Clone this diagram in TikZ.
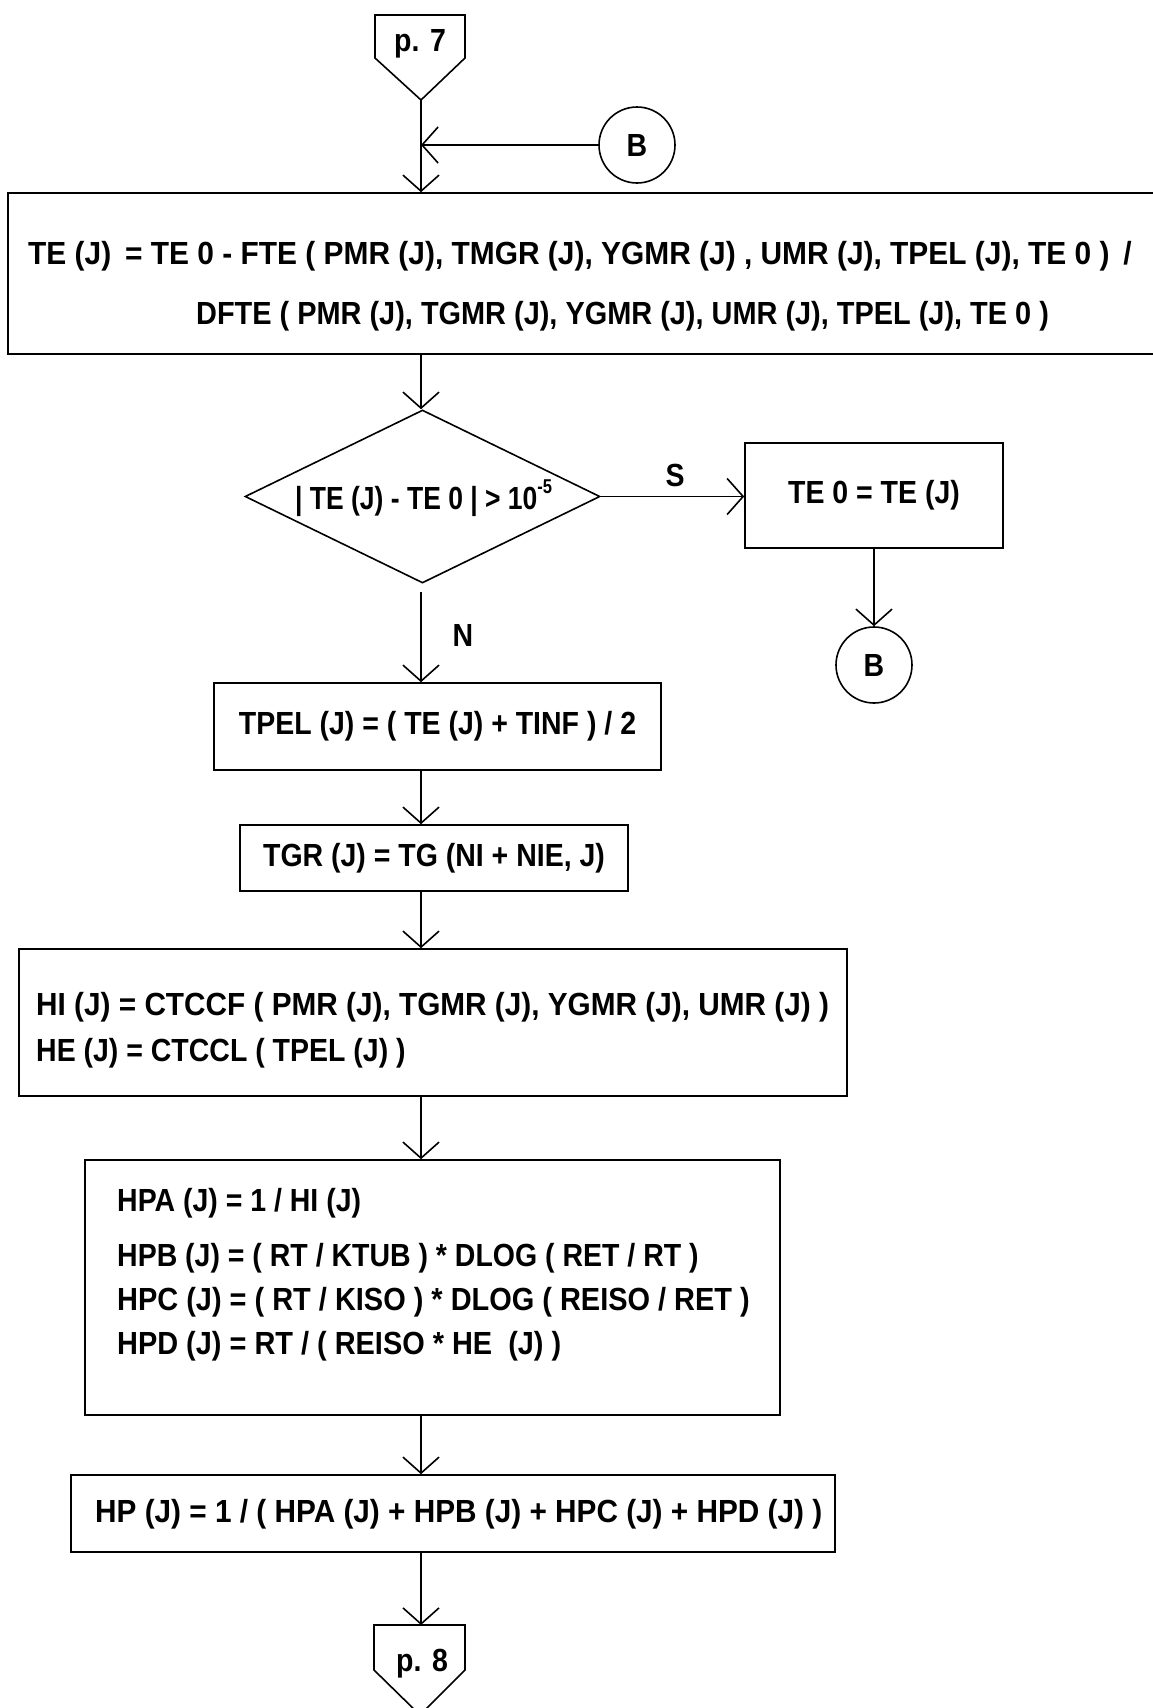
\documentclass[tikz,border=0pt]{standalone}
\usepackage{fontspec}
\setmainfont{Liberation Sans}[FakeStretch=0.89]
\usetikzlibrary{arrows.meta,shapes.geometric}
\newcommand\mysup[1]{\raisebox{0.5em}{\fontsize{20}{20}\selectfont #1}}
\newcommand\sxw[2]{\scalebox{#1}[1]{#2}}
\tikzset{
  ln/.style={line width=1.6pt},
  box/.style={draw, ln, rectangle, inner sep=0pt},
  txt/.style={font=\fontsize{32}{38}\selectfont\bfseries, inner sep=0pt},
  arr/.style={ln, -{Straight Barb[length=16pt,width=36pt,line width=1.6pt]}},
  conn/.style={draw, ln, circle, minimum size=76pt, inner sep=0pt, font=\fontsize{32}{38}\selectfont\bfseries},
}
\begin{document}
\begin{tikzpicture}[x=1pt,y=-1pt]
\useasboundingbox (0,0) rectangle (1152,1708);
\fill[white] (0,0) rectangle (1152,1708);
\coordinate (fx) at (421,0);
% off-page p.7
\draw[ln] (375,15) -- (465,15) -- (465,58) -- (421,100) -- (375,58) -- cycle;
\node[txt] (p7) at (420,44) {p. 7};
\coordinate (p7tip) at (421,100);
% connector B
\node[conn] (B1) at (637,145) {B};
% main box
\node[box, minimum width=1162pt, minimum height=161pt] (main) at (589,273.5) {};
\node[txt, anchor=west] (m1) at (28,256) {\sxw{1.05}{TE (J) \,= TE 0 - FTE ( PMR (J), TMGR (J), YGMR (J) , UMR (J), TPEL (J), TE 0 ) \,/}};
\node[txt, anchor=west] (m2) at (196,316) {\sxw{1.015}{DFTE ( PMR (J), TGMR (J), YGMR (J), UMR (J), TPEL (J), TE 0 )}};
% decision
\node[draw, ln, diamond, minimum width=355pt, minimum height=173pt, inner sep=0pt] (dia) at (422.5,496.5) {};
\node[txt, anchor=west] (dt) at (295,498) {\sxw{0.93}{| TE (J) - TE 0 | > 10\mysup{-5}}};
\node[box, minimum width=258pt, minimum height=105pt, txt] (te0) at (874,495.5) {TE 0 = TE (J)};
\node[conn] (B2) at (874,665) {B};
\node[txt] (S) at (675,475) {S};
\node[txt] (N) at (463,635) {N};
% process boxes
\node[box, txt, minimum width=447pt, minimum height=87pt] (tpel) at (437.5,726.5) {TPEL (J) = ( TE (J) + TINF ) / 2};
\node[box, txt, minimum width=388pt, minimum height=66pt] (tgr) at (434,858) {TGR (J) = TG (NI + NIE, J)};
\node[box, minimum width=828pt, minimum height=147pt] (hi) at (433,1022.5) {};
\node[txt, anchor=west] (hi1) at (36,1007) {\sxw{1.045}{HI (J) = CTCCF ( PMR (J), TGMR (J), YGMR (J), UMR (J) )}};
\node[txt, anchor=west] (hi2) at (36,1053) {HE (J) = CTCCL ( TPEL (J) )};
\node[box, minimum width=695pt, minimum height=255pt] (hpa) at (432.5,1287.5) {};
\node[txt, anchor=west] (hpa1) at (117,1203) {HPA (J) = 1 / HI (J)};
\node[txt, anchor=west] (hpa2) at (117,1258) {HPB (J) = ( RT / KTUB ) * DLOG ( RET / RT )};
\node[txt, anchor=west] (hpa3) at (117,1302) {\sxw{1.016}{HPC (J) = ( RT / KISO ) * DLOG ( REISO / RET )}};
\node[txt, anchor=west] (hpa4) at (117,1346) {\sxw{1.015}{HPD (J) = RT / ( REISO * HE \ (J) )}};
\node[box, minimum width=764pt, minimum height=77pt] (hp) at (453,1513.5) {};
\node[txt, anchor=west] (hp1) at (95,1514) {\sxw{1.045}{HP (J) = 1 / ( HPA (J) + HPB (J) + HPC (J) + HPD (J) )}};
% off-page p.8
\draw[ln] (374,1625) -- (465,1625) -- (465,1670) -- (420,1715) -- (374,1670) -- cycle;
\node[txt] (p8) at (422,1664) {p. 8};
\coordinate (p8top) at (421,1625);
% connectors
\draw[arr] (p7tip) -- (fx |- main.north);
\draw[arr] (B1.west) -- (B1.west -| fx);
\draw[arr] (fx |- main.south) -- (fx |- dia.north);
\draw[arr] (dia.east) -- (dia.east -| te0.west);
\draw[arr] (te0.south) -- (B2.north);
\draw[arr] ([yshift=-8pt]fx |- dia.south) -- (fx |- tpel.north);
\draw[arr] (fx |- tpel.south) -- (fx |- tgr.north);
\draw[arr] (fx |- tgr.south) -- (fx |- hi.north);
\draw[arr] (fx |- hi.south) -- (fx |- hpa.north);
\draw[arr] (fx |- hpa.south) -- (fx |- hp.north);
\draw[arr] (fx |- hp.south) -- (p8top);
\end{tikzpicture}
\end{document}
